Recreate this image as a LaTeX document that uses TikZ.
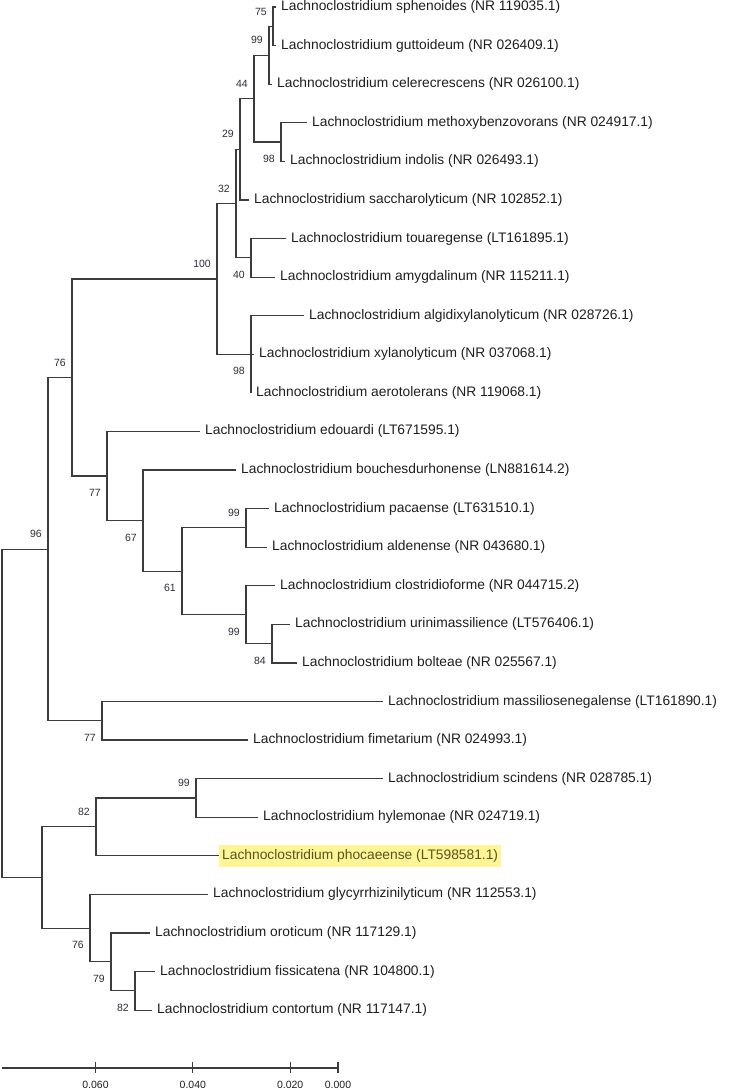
\documentclass[tikz,border=0pt]{standalone}
\usepackage{fontspec}
\setmainfont{Liberation Sans}
\usepackage{tikz}
\usetikzlibrary{positioning}
\definecolor{branch}{RGB}{60,60,60}
\definecolor{taxon}{RGB}{30,30,30}
\definecolor{boot}{RGB}{45,45,60}
\definecolor{hilite}{RGB}{255,245,150}
\definecolor{hltext}{RGB}{85,85,35}

\begin{document}
\begin{tikzpicture}[x=1pt,y=-1pt]
\tikzstyle{leaf}=[anchor=west, inner xsep=5pt, inner ysep=0pt, text height=10pt, text depth=3pt, font=\fontsize{13.8}{16}\selectfont, text=taxon]
\tikzstyle{hl}=[leaf, fill=hilite, text=hltext, xshift=3pt, inner xsep=3pt, inner ysep=4.5pt]
\tikzstyle{bs}=[inner sep=0pt, font=\fontsize{10.5}{12}\selectfont, text=boot]
\tikzstyle{edge}=[draw=branch, line width=1.2pt]
\tikzstyle{scalelab}=[inner sep=0pt, font=\fontsize{10.5}{12}\selectfont, text=taxon]

\useasboundingbox (0,0) rectangle (733,1090);

\node[leaf] (l1) at (276,7) {Lachnoclostridium sphenoides (NR 119035.1)};
\node[leaf] (l2) at (276,45.6) {Lachnoclostridium guttoideum (NR 026409.1)};
\node[leaf] (l3) at (272,84.2) {Lachnoclostridium celerecrescens (NR 026100.1)};
\node[leaf] (l4) at (307,122.7) {Lachnoclostridium methoxybenzovorans (NR 024917.1)};
\node[leaf] (l5) at (285,161.3) {Lachnoclostridium indolis (NR 026493.1)};
\node[leaf] (l6) at (249,199.9) {Lachnoclostridium saccharolyticum (NR 102852.1)};
\node[leaf] (l7) at (286,238.5) {Lachnoclostridium touaregense (LT161895.1)};
\node[leaf] (l8) at (275,277.1) {Lachnoclostridium amygdalinum (NR 115211.1)};
\node[leaf] (l9) at (304,315.6) {Lachnoclostridium algidixylanolyticum (NR 028726.1)};
\node[leaf] (l10) at (254,354.2) {Lachnoclostridium xylanolyticum (NR 037068.1)};
\node[leaf] (l11) at (251,392.8) {Lachnoclostridium aerotolerans (NR 119068.1)};
\node[leaf] (l12) at (200,431.4) {Lachnoclostridium edouardi (LT671595.1)};
\node[leaf] (l13) at (236,470) {Lachnoclostridium bouchesdurhonense (LN881614.2)};
\node[leaf] (l14) at (269,508.5) {Lachnoclostridium pacaense (LT631510.1)};
\node[leaf] (l15) at (267,547.1) {Lachnoclostridium aldenense (NR 043680.1)};
\node[leaf] (l16) at (275,585.7) {Lachnoclostridium clostridioforme (NR 044715.2)};
\node[leaf] (l17) at (290,624.3) {Lachnoclostridium urinimassilience (LT576406.1)};
\node[leaf] (l18) at (297,662.9) {Lachnoclostridium bolteae (NR 025567.1)};
\node[leaf] (l19) at (383,701.5) {Lachnoclostridium massiliosenegalense (LT161890.1)};
\node[leaf] (l20) at (248,740) {Lachnoclostridium fimetarium (NR 024993.1)};
\node[leaf] (l21) at (383,778.6) {Lachnoclostridium scindens (NR 028785.1)};
\node[leaf] (l22) at (258,817.2) {Lachnoclostridium hylemonae (NR 024719.1)};
\node[hl] (l23) at (216,855.8) {Lachnoclostridium phocaeense (LT598581.1)};
\node[leaf] (l24) at (208,894.4) {Lachnoclostridium glycyrrhizinilyticum (NR 112553.1)};
\node[leaf] (l25) at (150,932.9) {Lachnoclostridium oroticum (NR 117129.1)};
\node[leaf] (l26) at (155,971.5) {Lachnoclostridium fissicatena (NR 104800.1)};
\node[leaf] (l27) at (152,1010.1) {Lachnoclostridium contortum (NR 117147.1)};

\coordinate (A) at (273,26.3);
\coordinate (B) at (269,55.25);
\coordinate (C) at (254,98.6);
\coordinate (D) at (281,142);
\coordinate (E) at (240,149.25);
\coordinate (F) at (236,203.5);
\coordinate (G) at (251,257.8);
\coordinate (H) at (217,278.9);
\coordinate (I) at (251,354.2);
\coordinate (J) at (72,377.45);
\coordinate (K) at (107,476);
\coordinate (L) at (143,520.6);
\coordinate (M) at (182,571.2);
\coordinate (N) at (246,527.8);
\coordinate (O) at (246,614.65);
\coordinate (P) at (272,643.6);
\coordinate (Q) at (48,549.1);
\coordinate (R) at (102,720.75);
\coordinate (S) at (96,826.85);
\coordinate (T) at (196,797.9);
\coordinate (U) at (42,877.5);
\coordinate (V) at (90,928.1);
\coordinate (W) at (111,961.85);
\coordinate (X) at (135,990.8);
\coordinate (root) at (2,713.3);

\draw[edge] (A) |- (l1.west) (A) |- (l2.west)
  (B) |- (A) (B) |- (l3.west)
  (D) |- (l4.west) (D) |- (l5.west)
  (C) |- (B) (C) |- (D)
  (E) |- (C) (E) |- (l6.west)
  (G) |- (l7.west) (G) |- (l8.west)
  (F) |- (E) (F) |- (G)
  (I) |- (l9.west) (I) |- (l10.west) (I) |- (l11.west)
  (H) |- (F) (H) |- (I)
  (N) |- (l14.west) (N) |- (l15.west)
  (P) |- (l17.west) (P) |- (l18.west)
  (O) |- (l16.west) (O) |- (P)
  (M) |- (N) (M) |- (O)
  (L) |- (l13.west) (L) |- (M)
  (K) |- (l12.west) (K) |- (L)
  (J) |- (H) (J) |- (K)
  (R) |- (l19.west) (R) |- (l20.west)
  (Q) |- (J) (Q) |- (R)
  (T) |- (l21.west) (T) |- (l22.west)
  (S) |- (T) (S) |- (l23.west)
  (X) |- (l26.west) (X) |- (l27.west)
  (W) |- (l25.west) (W) |- (X)
  (V) |- (l24.west) (V) |- (W)
  (U) |- (S) (U) |- (V)
  (root) |- (Q) (root) |- (U);

\node[bs, above left=11pt and 6pt of A] (bA) {75};
\node[bs, above left=11pt and 6pt of B] (bB) {99};
\node[bs, above left=11pt and 6pt of C] (bC) {44};
\node[bs, below left=13pt and 6pt of D] (bD) {98};
\node[bs, above left=11pt and 6pt of E] (bE) {29};
\node[bs, above left=11pt and 6pt of F] (bF) {32};
\node[bs, below left=13pt and 6pt of G] (bG) {40};
\node[bs, above left=11pt and 6pt of H] (bH) {100};
\node[bs, below left=13pt and 6pt of I] (bI) {98};
\node[bs, above left=11pt and 6pt of J] (bJ) {76};
\node[bs, below left=13pt and 6pt of K] (bK) {77};
\node[bs, below left=13pt and 6pt of L] (bL) {67};
\node[bs, below left=13pt and 6pt of M] (bM) {61};
\node[bs, above left=11pt and 6pt of N] (bN) {99};
\node[bs, below left=13pt and 6pt of O] (bO) {99};
\node[bs, below left=13pt and 6pt of P] (bP) {84};
\node[bs, above left=11pt and 6pt of Q] (bQ) {96};
\node[bs, below left=13pt and 6pt of R] (bR) {77};
\node[bs, above left=11pt and 6pt of T] (bT) {99};
\node[bs, above left=11pt and 6pt of S] (bS) {82};
\node[bs, below left=13pt and 6pt of V] (bV) {76};
\node[bs, below left=13pt and 6pt of W] (bW) {79};
\node[bs, below left=13pt and 6pt of X] (bX) {82};

\coordinate (s0) at (2,1068);
\coordinate (t60) at (95.5,1068);
\coordinate (t40) at (192.8,1068);
\coordinate (t20) at (290.2,1068);
\coordinate (t00) at (338,1068);
\draw[edge] (s0) -- (t00);
\draw[edge] (t60) ++(0,-6) -- ++(0,11);
\draw[edge] (t40) ++(0,-6) -- ++(0,11);
\draw[edge] (t20) ++(0,-6) -- ++(0,11);
\draw[edge] (t00) ++(0,-6) -- ++(0,11);
\node[scalelab, below=13pt of t60] (n60) {0.060};
\node[scalelab, below=13pt of t40] (n40) {0.040};
\node[scalelab, below=13pt of t20] (n20) {0.020};
\node[scalelab, below=13pt of t00] (n00) {0.000};
\end{tikzpicture}
\end{document}
